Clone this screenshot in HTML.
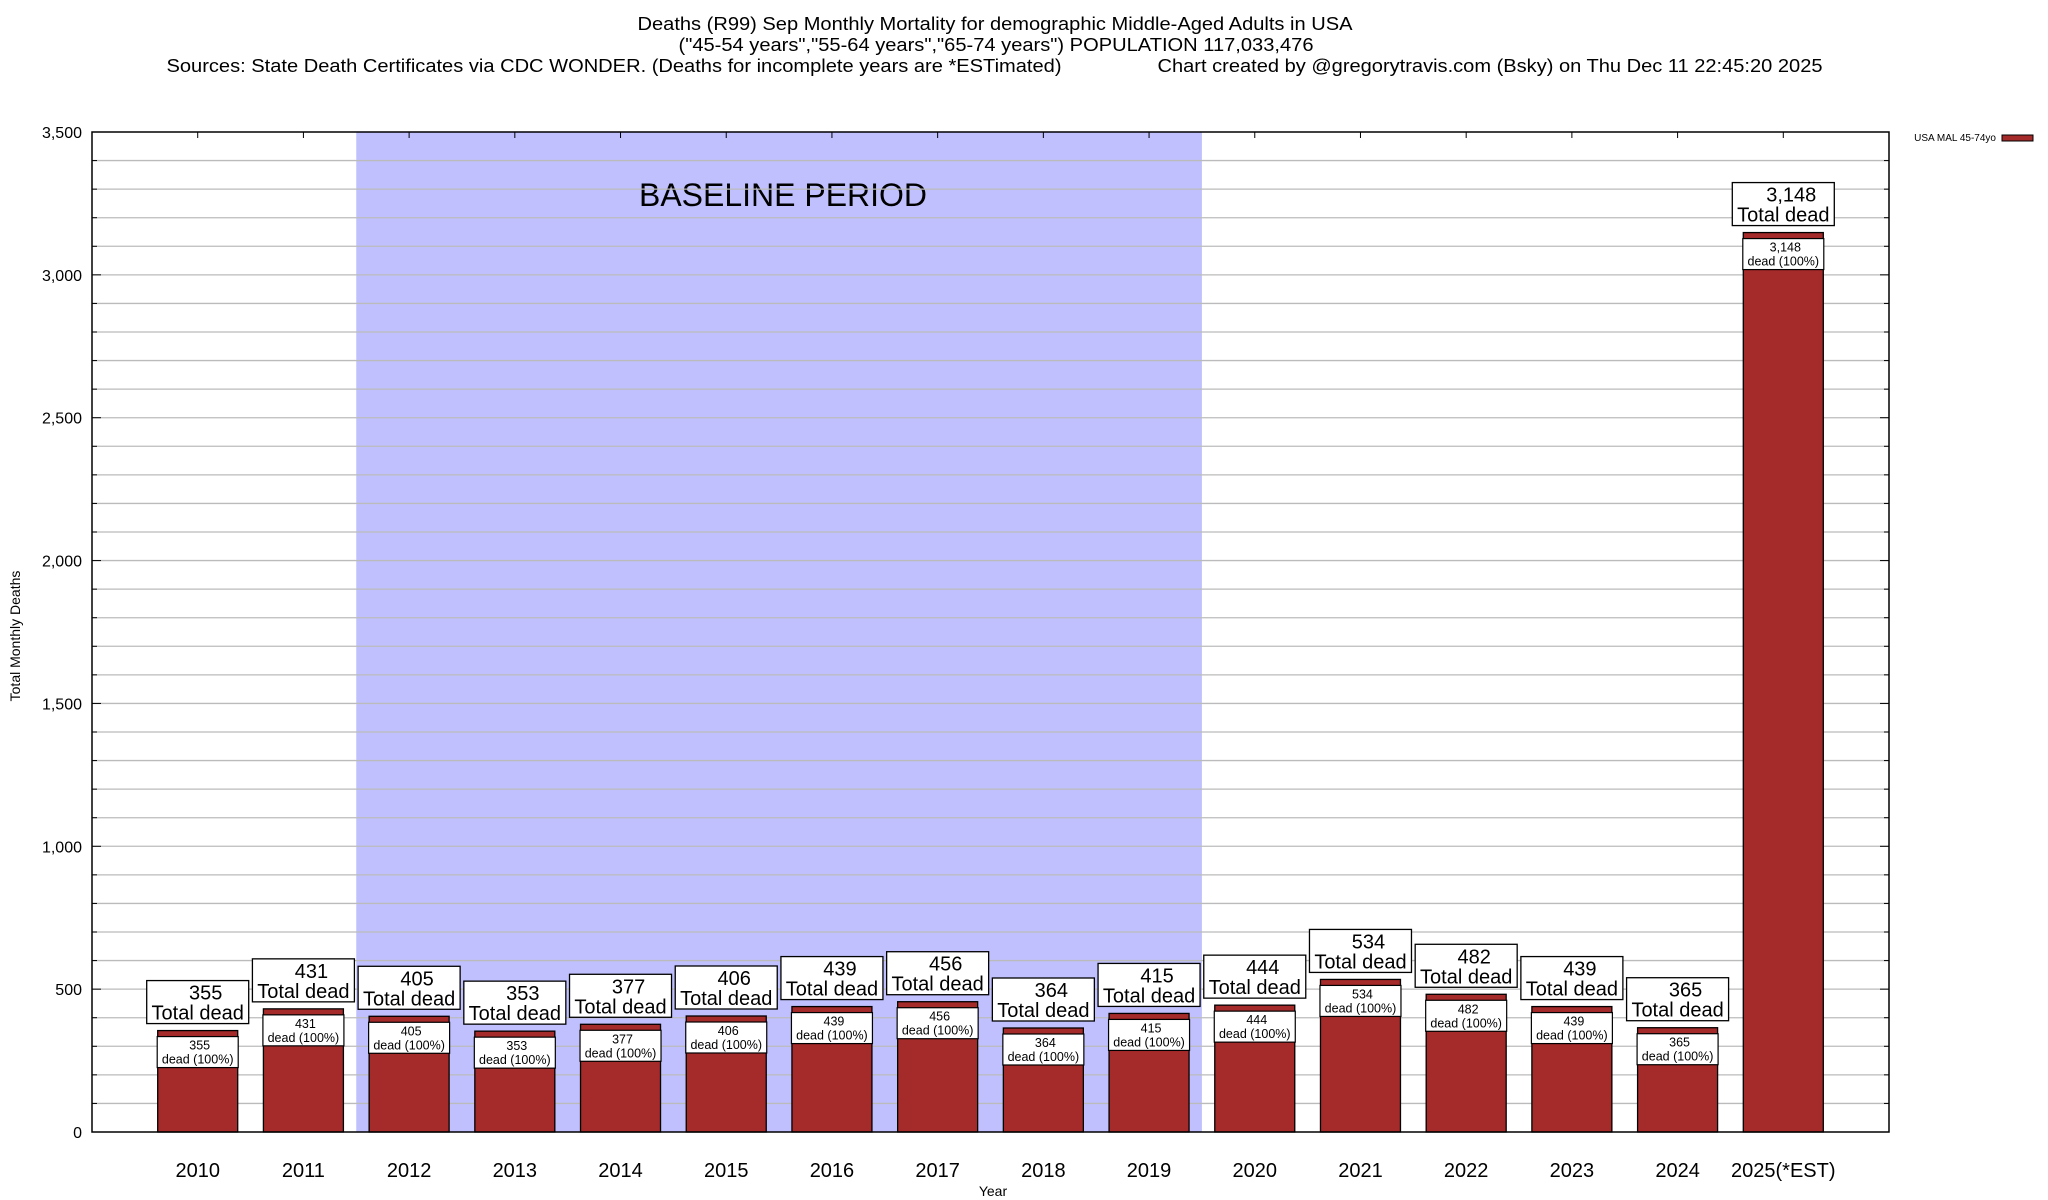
<!DOCTYPE html>
<html><head><meta charset="utf-8"><style>
html,body{margin:0;padding:0;background:#fff;}
svg{display:block;font-family:"Liberation Sans",Arial,sans-serif;}
</style></head><body>
<svg id="chart" width="2048" height="1200" viewBox="0 0 2048 1200" xmlns="http://www.w3.org/2000/svg">
<g font-size="18" fill="#000" text-anchor="middle">
<text x="995" y="30" textLength="715" lengthAdjust="spacingAndGlyphs">Deaths (R99) Sep Monthly Mortality for demographic Middle-Aged Adults in USA</text>
<text x="996" y="51" textLength="635" lengthAdjust="spacingAndGlyphs">("45-54 years","55-64 years","65-74 years") POPULATION 117,033,476</text>
<text x="614" y="72" textLength="895" lengthAdjust="spacingAndGlyphs">Sources: State Death Certificates via CDC WONDER. (Deaths for incomplete years are *ESTimated)</text>
<text x="1490" y="72" textLength="665" lengthAdjust="spacingAndGlyphs">Chart created by @gregorytravis.com (Bsky) on Thu Dec 11 22:45:20 2025</text>
</g>
<g id="plot"></g>
</svg>
<script>
const categories = ["2010","2011","2012","2013","2014","2015","2016","2017","2018","2019","2020","2021","2022","2023","2024","2025(*EST)"];
const deaths = [355,431,405,353,377,406,439,456,364,415,444,534,482,439,365,3148];
const yTicks = [0,500,1000,1500,2000,2500,3000,3500];
const yTickLabels = ["0","500","1,000","1,500","2,000","2,500","3,000","3,500"];
const baselineStart = "2012", baselineEnd = "2019";

const L=92,R=1889,T=132,B=1132,YMAX=3500;
const step=(R-L)/(categories.length+1);
const xc=i=>L+(i+1)*step;
const y=v=>B-(v/YMAX)*(B-T);
const NS="http://www.w3.org/2000/svg";
const plot=document.getElementById('plot');
function mk(tag,attrs,parent,text){const e=document.createElementNS(NS,tag);for(const k in attrs)e.setAttribute(k,attrs[k]);if(text!==undefined)e.textContent=text;(parent||plot).appendChild(e);return e;}
const fmt=v=>v.toLocaleString('en-US');

// baseline shading
const bs=categories.indexOf(baselineStart), be=categories.indexOf(baselineEnd);
let sh=mk('rect',{x:xc(bs)-step/2,y:T,width:(be-bs+1)*step,height:B-T,fill:'#c0c0ff'});


let st=mk('text',{x:783,y:206,'font-size':32,'text-anchor':'middle',textLength:288,lengthAdjust:'spacingAndGlyphs'},plot,'BASELINE PERIOD');



// grid lines every 100
for(let v=100;v<YMAX;v+=100){
  let g=mk('line',{x1:L,x2:R,y1:y(v),y2:y(v),stroke:'#bbb','stroke-width':1.3});
  
  
  let t1=mk('line',{x1:L,x2:L+(v%500?5:9),y1:y(v),y2:y(v),stroke:'#000','stroke-width':1});
  
  
  let t2=mk('line',{x1:R,x2:R-(v%500?5:9),y1:y(v),y2:y(v),stroke:'#000','stroke-width':1});
  
  
}
// y tick labels
yTicks.forEach((v,i)=>{
  let t=mk('text',{x:82,y:y(v)+6,'font-size':16,'text-anchor':'end'},plot,yTickLabels[i]);
  
  
});

// bars
categories.forEach((c,i)=>{
  const v=deaths[i], cx=xc(i), bw=80, top=y(v);
  let b=mk('rect',{x:cx-bw/2,y:top,width:bw,height:B-top,fill:'#a52a2a',stroke:'#000','stroke-width':1.3});
  
  
  let tt=mk('line',{x1:cx,x2:cx,y1:T,y2:T+6,stroke:'#000'});
  
  
  let ib=mk('rect',{x:cx-40.5,y:top+6,width:81,height:31,fill:'#fff',stroke:'#000','stroke-width':1.2});
  
  
  let it1=mk('text',{x:cx+2,y:top+19,'font-size':12.5,'text-anchor':'middle'},plot,fmt(v));
  
  
  let it2=mk('text',{x:cx,y:top+33,'font-size':12.5,'text-anchor':'middle'},plot,'dead (100%)');
  
  
  const ob=top-50;
  let oR=mk('rect',{x:cx-51,y:ob,width:102,height:43,fill:'#fff',stroke:'#000','stroke-width':1.3});
  
  
  let ot1=mk('text',{x:cx+8,y:ob+19,'font-size':20,'text-anchor':'middle'},plot,fmt(v));
  
  
  let ot2=mk('text',{x:cx,y:ob+39,'font-size':20,'text-anchor':'middle'},plot,'Total dead');
  
  
  let xl=mk('text',{x:cx,y:1177,'font-size':20,'text-anchor':'middle'},plot,c);
  
  
});

// frame
let fr=mk('rect',{x:L,y:T,width:R-L,height:B-T,fill:'none',stroke:'#000','stroke-width':1.5});



// axis titles
let xt=mk('text',{x:993,y:1196,'font-size':14,'text-anchor':'middle'},plot,'Year');


let yt=mk('text',{x:0,y:0,'font-size':14,'text-anchor':'middle',transform:'translate(20,636) rotate(-90)'},plot,'Total Monthly Deaths');



// legend
let lg=mk('text',{x:1996,y:141,'font-size':10,'text-anchor':'end'},plot,'USA MAL 45-74yo');


let ls=mk('rect',{x:2002,y:135,width:31,height:6,fill:'#a52a2a',stroke:'#000','stroke-width':1});


</script>
</body></html>
